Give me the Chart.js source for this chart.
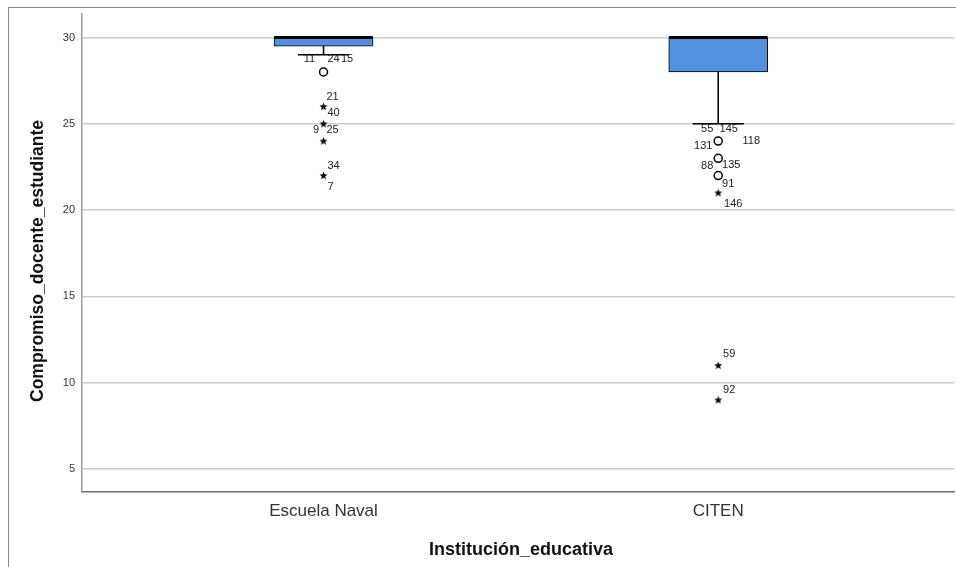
<!DOCTYPE html>
<html lang="es">
<head>
<meta charset="utf-8">
<title>Compromiso_docente_estudiante por Institución_educativa</title>
<script src="https://cdn.jsdelivr.net/npm/chart.js@4.4.1/dist/chart.umd.min.js"></script>
<style>
  html, body { margin: 0; padding: 0; background: #fff; overflow: hidden; }
  #wrap { position: relative; width: 960px; height: 567px; }
</style>
</head>
<body>
<div id="wrap"><canvas id="chart" width="960" height="567"></canvas></div>
<script>
// ---- data ----
const categories = ['Escuela Naval', 'CITEN'];
const q1 = [29.5, 28];
const median = [30, 30];
const q3 = [30, 30];
const whiskerLow = [29, 25];
const whiskerHigh = [30, 30];
// outliers (circles) and extreme values (stars), with their case numbers
const outlierValues = [[28], [24, 23, 22]];
const outlierIds = [[['11', '24', '15']], [['55', '145', '131', '118'], ['88', '135'], ['91']]];
const extremeValues = [[26, 25, 24, 22], [21, 11, 9]];
const extremeIds = [[['21', '40'], ['9', '25'], [], ['34', '7']], [['146'], ['59'], ['92']]];
const yTicks = [5, 10, 15, 20, 25, 30];
const xTitle = 'Institución_educativa';
const yTitle = 'Compromiso_docente_estudiante';

// ---- layout / style ----
const FONT = "'Liberation Sans', Arial, Helvetica, sans-serif";
const BOX_FILL = '#5291e0';
const BOX_HALF = 0.125;   // half box width in category units
const CAP_HALF = 0.065;   // half whisker-cap width
// pixel offsets of each case label relative to its marker
const idOffset = {
  '11': [-14, -13], '24': [10, -13], '15': [23.5, -13],
  '21': [9, -10], '40': [10, 6], '9': [-7.5, 6], '25': [9, 6],
  '34': [10, -10], '7': [7, 11],
  '55': [-11, -12], '145': [10.5, -12.5], '131': [-15, 5], '118': [33, 0],
  '88': [-11, 8], '135': [13, 7], '91': [10, 8], '146': [15, 11],
  '59': [11, -11], '92': [11, -10]
};

Chart.defaults.font.family = FONT;

// filled five-point star used for extreme values
function makeStar(size) {
  const c = document.createElement('canvas');
  c.width = c.height = size;
  const g = c.getContext('2d');
  const cx = size / 2, cy = size / 2 + 0.3, R = size / 2 - 0.2, r = R * 0.42;
  g.beginPath();
  for (let k = 0; k < 10; k++) {
    const a = -Math.PI / 2 + k * Math.PI / 5;
    const rad = k % 2 ? r : R;
    g.lineTo(cx + rad * Math.cos(a), cy + rad * Math.sin(a));
  }
  g.closePath();
  g.fillStyle = '#000';
  g.fill();
  return c;
}
const starImg = makeStar(9);

// ---- build datasets from the arrays ----
const boxData = categories.map((c, i) => ({ x: i, y: [q1[i], q3[i]] }));

const whiskerData = [];
categories.forEach((c, i) => {
  whiskerData.push({ x: i, y: q1[i] }, { x: i, y: whiskerLow[i] }, { x: i, y: null });
  whiskerData.push({ x: i, y: q3[i] }, { x: i, y: whiskerHigh[i] }, { x: i, y: null });
  whiskerData.push({ x: i - CAP_HALF, y: whiskerLow[i] }, { x: i + CAP_HALF, y: whiskerLow[i] }, { x: i, y: null });
  whiskerData.push({ x: i - CAP_HALF, y: whiskerHigh[i] }, { x: i + CAP_HALF, y: whiskerHigh[i] }, { x: i, y: null });
});

const medianData = [];
categories.forEach((c, i) => {
  medianData.push({ x: i - BOX_HALF, y: median[i] }, { x: i + BOX_HALF, y: median[i] }, { x: i, y: null });
});

function flatten(values, ids) {
  const pts = [], lab = [];
  values.forEach((list, i) => list.forEach((v, k) => { pts.push({ x: i, y: v }); lab.push(ids[i][k]); }));
  return { pts, lab };
}
const outl = flatten(outlierValues, outlierIds);
const extr = flatten(extremeValues, extremeIds);

// ---- plugins ----
const framePlugin = {
  id: 'frame',
  beforeDraw(chart) {
    const ctx = chart.ctx;
    ctx.save();
    ctx.fillStyle = '#fff';
    ctx.fillRect(0, 0, chart.width, chart.height);
    ctx.strokeStyle = '#8c8c8c';
    ctx.lineWidth = 1;
    ctx.strokeRect(8.5, 7.5, chart.width + 20, chart.height + 20);
    ctx.restore();
  }
};

const caseLabelPlugin = {
  id: 'caseLabels',
  afterDatasetsDraw(chart) {
    const ctx = chart.ctx;
    ctx.save();
    ctx.font = '11px ' + FONT;
    ctx.fillStyle = '#222';
    ctx.textAlign = 'center';
    ctx.textBaseline = 'middle';
    chart.data.datasets.forEach((ds, di) => {
      if (!ds.caseIds) return;
      chart.getDatasetMeta(di).data.forEach((pt, k) => {
        (ds.caseIds[k] || []).forEach(id => {
          const off = idOffset[id] || [10, 0];
          ctx.fillText(id, pt.x + off[0], pt.y + off[1]);
        });
      });
    });
    ctx.restore();
  }
};

// axis titles
const axisTitlePlugin = {
  id: 'axisTitles',
  afterDraw(chart) {
    const ctx = chart.ctx;
    ctx.save();
    ctx.fillStyle = '#111';
    ctx.textAlign = 'center';
    ctx.textBaseline = 'middle';
    ctx.font = 'bold 18px ' + FONT;
    ctx.fillText(xTitle, 521, 550);
    ctx.translate(38.5, 261);
    ctx.rotate(-Math.PI / 2);
    ctx.font = 'bold 17.5px ' + FONT;
    ctx.fillText(yTitle, 0, 0);
    ctx.restore();
  }
};

new Chart(document.getElementById('chart'), {
  type: 'bar',
  data: {
    datasets: [
      {
        type: 'bar', label: 'box', data: boxData,
        backgroundColor: BOX_FILL, borderColor: '#000', borderWidth: 1,
        borderSkipped: false, barThickness: 99, order: 5
      },
      {
        type: 'line', label: 'whiskers', data: whiskerData,
        borderColor: '#000', borderWidth: 1.6, pointRadius: 0,
        spanGaps: false, fill: false, order: 4
      },
      {
        type: 'line', label: 'median', data: medianData,
        borderColor: '#000', borderWidth: 3, pointRadius: 0,
        spanGaps: false, fill: false, order: 2
      },
      {
        type: 'line', label: 'outliers', data: outl.pts, caseIds: outl.lab,
        showLine: false, pointStyle: 'circle', pointRadius: 4,
        pointBorderWidth: 1.5, pointBorderColor: '#000', pointBackgroundColor: '#fff', order: 1
      },
      {
        type: 'line', label: 'extremes', data: extr.pts, caseIds: extr.lab,
        showLine: false, pointStyle: starImg, pointRadius: 4, order: 1
      }
    ]
  },
  options: {
    responsive: false,
    devicePixelRatio: 1,
    animation: false,
    events: [],
    layout: { padding: { top: 14, left: 0, right: 0, bottom: 0 } },
    plugins: { legend: { display: false }, tooltip: { enabled: false } },
    scales: {
      x: {
        type: 'linear', min: -0.6119, max: 1.5986, offset: false,
        grid: { display: false, offset: false, drawTicks: false },
        border: { display: true, color: '#6e6e6e', width: 1.5 },
        afterBuildTicks: s => { s.ticks = categories.map((c, i) => ({ value: i })); },
        afterFit: s => { s.height = 75; },
        ticks: {
          autoSkip: false, padding: 9.5, color: '#333',
          font: { size: 17 },
          callback: v => categories[v] !== undefined ? categories[v] : ''
        }
      },
      y: {
        type: 'linear', min: 3.667, max: 31.36, beginAtZero: false,
        grid: { color: '#cccccc', lineWidth: 1.5, drawTicks: false },
        border: { display: true, color: '#9a9a9a', width: 1.5 },
        afterBuildTicks: s => { s.ticks = yTicks.map(v => ({ value: v })); },
        afterFit: s => { s.width = 82; },
        ticks: { padding: 7, color: '#333', font: { size: 11 } }
      }
    }
  },
  plugins: [framePlugin, caseLabelPlugin, axisTitlePlugin]
});
</script>
</body>
</html>
